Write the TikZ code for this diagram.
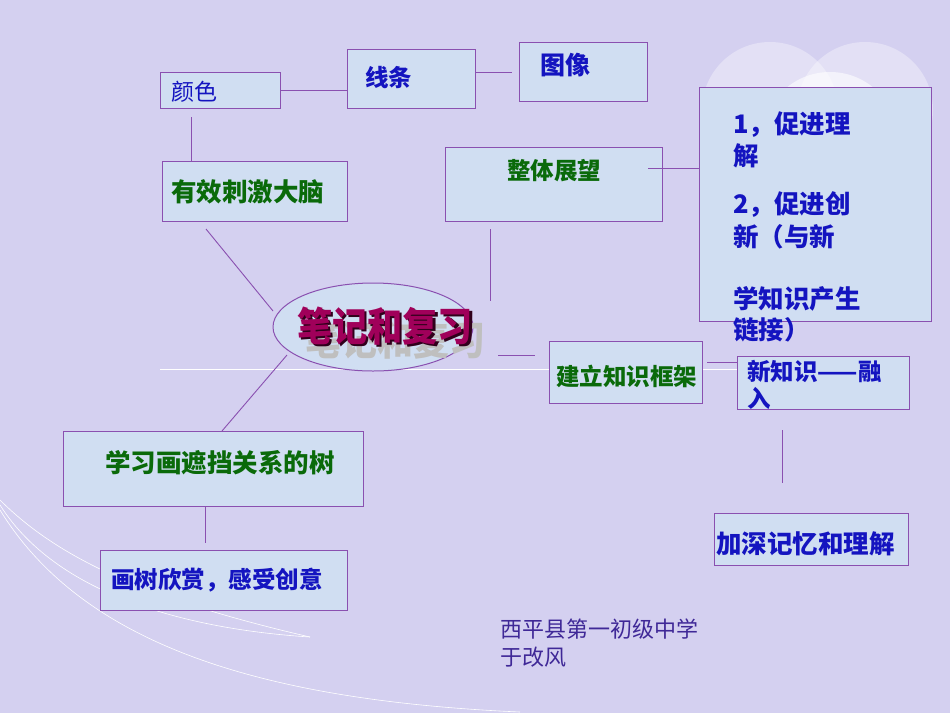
\documentclass[tikz,border=0pt]{standalone}
\usepackage{fontspec}
\newfontfamily\cjk{Noto Sans CJK SC}
\usetikzlibrary{shapes.geometric}
\definecolor{bgc}{HTML}{D4D0F0}
\definecolor{boxf}{HTML}{D0DEF2}
\definecolor{boxd}{HTML}{8A50B0}
\definecolor{tgreen}{HTML}{0A6A0A}
\definecolor{tblue}{HTML}{1414C0}
\definecolor{ttl}{HTML}{A0005A}
\tikzset{
 box/.style={draw=boxd,fill=boxf,line width=1pt,inner sep=0pt},
 ln/.style={draw=boxd,line width=0.9pt},
 gt/.style={font=\cjk\bfseries\fontsize{23.5}{26}\selectfont,text=tgreen,anchor=west,inner sep=0pt},
 bt/.style={font=\cjk\bfseries\fontsize{23.5}{26}\selectfont,text=tblue,anchor=west,inner sep=0pt},
 big/.style={font=\cjk\bfseries\fontsize{25.5}{28}\selectfont},
}
\begin{document}
\begin{tikzpicture}[x=1pt,y=-1pt]
\fill[bgc] (0,0) rectangle (950,713);
\useasboundingbox (0,0) rectangle (950,713);
% decorations
\fill[white,opacity=0.35] (770,110) circle (68);
\fill[white,opacity=0.35] (865,110) circle (68);
\fill[white,opacity=0.6] (830,140) circle (68);
\draw[white,line width=0.8pt] (160,369) -- (760,369);
\draw[white,line width=0.6pt] (0,500) .. controls (60,560) and (150,600) .. (310,637);
\draw[white,line width=0.6pt] (0,505) .. controls (60,600) and (200,630) .. (310,637);
\draw[white,line width=0.6pt] (0,510) .. controls (80,640) and (250,700) .. (520,712);
% boxes
\node[box,minimum width=120,minimum height=36] (col) at (220,90) {};
\node[box,minimum width=128,minimum height=59] (lin) at (411,78.5) {};
\node[box,minimum width=128,minimum height=59] (img) at (583,71.5) {};
\node[box,minimum width=185,minimum height=60] (yx) at (254.5,191) {};
\node[box,minimum width=217,minimum height=74] (zt) at (553.5,184) {};
\node[box,minimum width=232,minimum height=234] (bigb) at (815,204) {};
\node[box,ellipse,minimum width=200,minimum height=88] (tit) at (373,327) {};
\node[box,minimum width=153,minimum height=62] (jl) at (625.5,372) {};
\node[box,minimum width=172,minimum height=53] (xz) at (823,382.5) {};
\node[box,minimum width=194,minimum height=52] (js) at (811,539) {};
\node[box,minimum width=300,minimum height=75] (xx) at (213,468.5) {};
\node[box,minimum width=247,minimum height=60] (hs) at (223.5,580) {};
% texts
\node[font=\cjk\fontsize{23}{26}\selectfont,text=tblue,anchor=west,inner sep=0pt] (tcol) at (171,92) {颜色};
\node[bt] (tlin) at (365,78) {线条};
\node[bt,font=\cjk\bfseries\fontsize{25}{28}\selectfont] (timg) at (540,65) {图像};
\node[gt,big] (tyx) at (171,192) {有效刺激大脑};
\node[gt] (tzt) at (507,171) {整体展望};
\node[gt] (tjl) at (556,376) {建立知识框架};
\node[bt] (txz) at (747,371) {新知识——融};
\node[bt] (txz2) at (747,398) {入};
\node[bt,big] (tjs) at (716,544) {加深记忆和理解};
\node[gt,big] (txx) at (105,463) {学习画遮挡关系的树};
\node[bt] (ths) at (111,580) {画树欣赏，感受创意};
\node[bt,big] (b1) at (733,125) {1，促进理};
\node[bt,big] (b2) at (733,156) {解};
\node[bt,big] (b3) at (733,205) {2，促进创};
\node[bt,big] (b4) at (733,237) {新（与新};
\node[bt,big] (b5) at (733,299) {学知识产生};
\node[bt,big] (b6) at (733,330) {链接）};
% title
\node[font=\cjk\bfseries\fontsize{40}{44}\selectfont,text=black!25,anchor=center,inner sep=0pt,xscale=0.9] (ghost) at (395,340) {笔记和复习};
\node[font=\cjk\bfseries\fontsize{40}{44}\selectfont,text=black!70!ttl,anchor=center,inner sep=0pt,xscale=0.88] (tsh) at (387.5,328.5) {笔记和复习};
\node[font=\cjk\bfseries\fontsize{40}{44}\selectfont,text=ttl,anchor=center,inner sep=0pt,xscale=0.88] (ttit) at (385,326) {笔记和复习};
% footer
\node[font=\cjk\fontsize{22}{28}\selectfont,text=black!30!tblue!60!boxd,anchor=north west,align=left,inner sep=0pt] (ft) at (500,619) {西平县第一初级中学\\于改风};
% connectors
\coordinate (a1) at (512,72);
\draw[ln] (col.east) -- (col.east -| lin.west);
\draw[ln] (lin.east |- a1) -- (a1);
\coordinate (c1) at (191,117);
\draw[ln] (c1) -- (c1 |- yx.north);
\coordinate (d1) at (206,229); \coordinate (d2) at (273,311);
\draw[ln] (d1) -- (d2);
\coordinate (e1) at (490,229); \coordinate (e2) at (490,301);
\draw[ln] (e1) -- (e2);
\coordinate (f1) at (648,168);
\draw[ln] (f1) -- (f1 -| bigb.west);
\coordinate (g1) at (498,355); \coordinate (g2) at (535,355);
\draw[ln] (g1) -- (g2);
\coordinate (h1) at (707,362);
\draw[ln] (h1) -- (h1 -| xz.west);
\coordinate (i1) at (782,430); \coordinate (i2) at (782,483);
\draw[ln] (i1) -- (i2);
\coordinate (j1) at (287,355);
\draw[ln] (j1) -- (222,431);
\coordinate (k1) at (205,543);
\draw[ln] (xx.south -| k1) -- (k1);
\end{tikzpicture}
\end{document}
